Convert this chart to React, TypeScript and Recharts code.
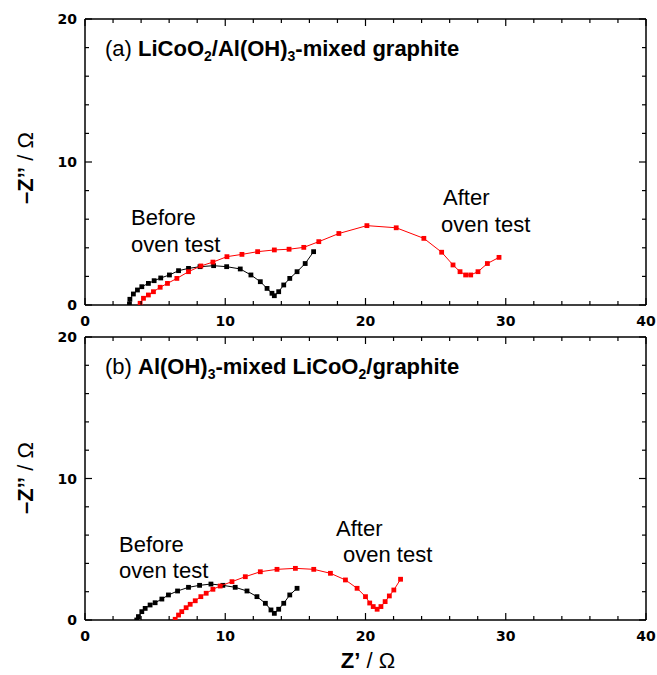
import React from 'react';
import { ScatterChart, Scatter, XAxis, YAxis } from 'recharts';

// ---------- data ----------
const xTicks = [0, 2, 4, 6, 8, 10, 12, 14, 16, 18, 20, 22, 24, 26, 28, 30, 32, 34, 36, 38, 40];
const yTicks = [0, 2, 4, 6, 8, 10, 12, 14, 16, 18, 20];

// (a) LiCoO2/Al(OH)3-mixed graphite
const aBeforeX = [3.17, 3.2, 3.45, 3.74, 4.05, 4.52, 4.93, 5.4, 6.02, 6.67, 7.38, 8.2, 9.17, 10.1, 11.07, 11.83, 12.5, 12.98, 13.33, 13.5, 13.81, 14.17, 14.6, 15.12, 15.7, 16.3];
const aBeforeY = [0.07, 0.4, 0.77, 1.05, 1.28, 1.51, 1.7, 1.89, 2.1, 2.4, 2.56, 2.68, 2.75, 2.68, 2.52, 2.1, 1.63, 1.16, 0.82, 0.65, 0.93, 1.4, 1.86, 2.33, 2.9, 3.73];
const aAfterX = [3.93, 4.17, 4.52, 4.88, 5.36, 5.88, 6.55, 7.38, 8.26, 9.12, 10.12, 11.19, 12.31, 13.5, 14.55, 15.6, 16.67, 18.1, 20.1, 22.19, 24.16, 25.43, 26.24, 26.74, 27.14, 27.5, 28.02, 28.69, 29.52];
const aAfterY = [0.12, 0.47, 0.7, 0.93, 1.24, 1.51, 1.86, 2.33, 2.73, 3.0, 3.38, 3.54, 3.73, 3.85, 3.9, 4.03, 4.43, 5.0, 5.55, 5.4, 4.66, 3.69, 2.8, 2.33, 2.1, 2.1, 2.33, 2.9, 3.33];

// (b) Al(OH)3-mixed LiCoO2/graphite
const bBeforeX = [3.69, 3.81, 4.05, 4.29, 4.64, 5.0, 5.48, 5.95, 6.6, 7.38, 8.17, 8.98, 9.83, 10.71, 11.55, 12.26, 12.86, 13.26, 13.5, 13.81, 14.17, 14.6, 15.12];
const bBeforeY = [0, 0.24, 0.59, 0.82, 1.06, 1.22, 1.48, 1.77, 2.05, 2.31, 2.45, 2.54, 2.45, 2.31, 2.05, 1.65, 1.18, 0.71, 0.47, 0.76, 1.18, 1.77, 2.24];
const bAfterX = [6.43, 6.67, 6.9, 7.21, 7.5, 7.86, 8.26, 8.64, 9.12, 9.64, 10.48, 11.43, 12.5, 13.69, 15.0, 16.31, 17.5, 18.57, 19.4, 20.0, 20.3, 20.55, 20.83, 21.1, 21.4, 21.7, 22.02, 22.5];
const bAfterY = [0.05, 0.35, 0.59, 0.87, 1.11, 1.36, 1.65, 1.89, 2.17, 2.4, 2.71, 3.06, 3.41, 3.58, 3.65, 3.58, 3.3, 2.83, 2.24, 1.65, 1.2, 0.95, 0.76, 0.95, 1.3, 1.7, 2.12, 2.88];

const toPoints = (xs: number[], ys: number[]) => xs.map((x, i) => ({ x, y: ys[i] }));

// ---------- styling helpers ----------
const TICK_FONT = 'DejaVu Sans, sans-serif';
const TEXT_FONT = 'Liberation Sans, Arial, sans-serif';
const isMajor = (v: number) => v % 10 === 0;

function BottomTick(props: any) {
  const { x, y, payload } = props;
  const major = isMajor(payload.value);
  return (
    <g>
      <line x1={x} y1={y} x2={x} y2={y - (major ? 7 : 4)} stroke="#000" strokeWidth={1.2} />
      {major && (
        <text x={x} y={y + 21} textAnchor="middle" fontFamily={TICK_FONT} fontWeight="bold" fontSize={14} fill="#000">
          {payload.value}
        </text>
      )}
    </g>
  );
}

function TopTick(props: any) {
  const { x, y, payload } = props;
  const major = isMajor(payload.value);
  return <line x1={x} y1={y} x2={x} y2={y + (major ? 7 : 4)} stroke="#000" strokeWidth={1.2} />;
}

function LeftTick(props: any) {
  const { x, y, payload } = props;
  const major = isMajor(payload.value);
  return (
    <g>
      <line x1={x} y1={y} x2={x + (major ? 7 : 4)} y2={y} stroke="#000" strokeWidth={1.2} />
      {major && (
        <text x={x - 8} y={y + 5} textAnchor="end" fontFamily={TICK_FONT} fontWeight="bold" fontSize={14} fill="#000">
          {payload.value}
        </text>
      )}
    </g>
  );
}

function RightTick(props: any) {
  const { x, y, payload } = props;
  const major = isMajor(payload.value);
  return <line x1={x} y1={y} x2={x - (major ? 7 : 4)} y2={y} stroke="#000" strokeWidth={1.2} />;
}

const makeSquare = (color: string) => (props: any) => {
  const { cx, cy } = props;
  if (cx == null || cy == null) return <g />;
  return <rect x={cx - 2.4} y={cy - 2.4} width={4.8} height={4.8} fill={color} />;
};
const BlackSquare = makeSquare('#000');
const RedSquare = makeSquare('#ff0000');
const NoShape = () => <g />;

const axisLine = { stroke: '#000', strokeWidth: 1.5 };

function Panel({ height, bottomH, before, after }: { height: number; bottomH: number; before: { x: number; y: number }[]; after: { x: number; y: number }[] }) {
  return (
    <ScatterChart width={657} height={height} margin={{ top: 18, right: 10, bottom: 0, left: 0 }}>
      <XAxis
        xAxisId="b"
        type="number"
        dataKey="x"
        domain={[0, 40]}
        ticks={xTicks}
        interval={0}
        tickSize={0}
        tickMargin={0}
        tickLine={false}
        axisLine={axisLine}
        tick={<BottomTick />}
        height={bottomH}
        allowDataOverflow
      />
      <XAxis
        xAxisId="t"
        orientation="top"
        type="number"
        dataKey="x"
        domain={[0, 40]}
        ticks={xTicks}
        interval={0}
        tickSize={0}
        tickMargin={0}
        tickLine={false}
        axisLine={axisLine}
        tick={<TopTick />}
        height={1}
        allowDataOverflow
      />
      <YAxis
        yAxisId="l"
        type="number"
        dataKey="y"
        domain={[0, 20]}
        ticks={yTicks}
        interval={0}
        tickSize={0}
        tickMargin={0}
        tickLine={false}
        axisLine={axisLine}
        tick={<LeftTick />}
        width={85}
        allowDataOverflow
      />
      <YAxis
        yAxisId="r"
        orientation="right"
        type="number"
        dataKey="y"
        domain={[0, 20]}
        ticks={yTicks}
        interval={0}
        tickSize={0}
        tickMargin={0}
        tickLine={false}
        axisLine={axisLine}
        tick={<RightTick />}
        width={1}
        allowDataOverflow
      />
      <Scatter
        xAxisId="t"
        yAxisId="r"
        data={[]}
        shape={NoShape}
        isAnimationActive={false}
      />
      <Scatter
        xAxisId="b"
        yAxisId="l"
        data={before}
        fill="#000"
        shape={BlackSquare}
        line={{ stroke: '#000', strokeWidth: 1 }}
        lineType="joint"
        isAnimationActive={false}
      />
      <Scatter
        xAxisId="b"
        yAxisId="l"
        data={after}
        fill="#ff0000"
        shape={RedSquare}
        line={{ stroke: '#ff0000', strokeWidth: 1 }}
        lineType="joint"
        isAnimationActive={false}
      />
    </ScatterChart>
  );
}

const sub = { fontSize: 14 };

export default function App() {
  return (
    <div style={{ position: 'absolute', left: 0, top: 0, width: 657, height: 675, background: '#fff', fontFamily: TEXT_FONT }}>
      <div style={{ position: 'absolute', left: 0, top: 0 }}>
        <Panel height={335} bottomH={30} before={toPoints(aBeforeX, aBeforeY)} after={toPoints(aAfterX, aAfterY)} />
      </div>
      <div style={{ position: 'absolute', left: 0, top: 318 }}>
        <Panel height={357} bottomH={55} before={toPoints(bBeforeX, bBeforeY)} after={toPoints(bAfterX, bAfterY)} />
      </div>
      <svg width={657} height={675} style={{ position: 'absolute', left: 0, top: 0, pointerEvents: 'none' }}>
        <g fontFamily={TEXT_FONT} fill="#000">
          {/* panel titles */}
          <text x={105} y={56} fontSize={22}>
            <tspan>(a) </tspan>
            <tspan fontWeight="bold">LiCoO</tspan>
            <tspan fontWeight="bold" style={sub} dy={5}>2</tspan>
            <tspan fontWeight="bold" dy={-5}>/Al(OH)</tspan>
            <tspan fontWeight="bold" style={sub} dy={5}>3</tspan>
            <tspan fontWeight="bold" dy={-5}>-mixed graphite</tspan>
          </text>
          <text x={105} y={374} fontSize={22}>
            <tspan>(b) </tspan>
            <tspan fontWeight="bold">Al(OH)</tspan>
            <tspan fontWeight="bold" style={sub} dy={5}>3</tspan>
            <tspan fontWeight="bold" dy={-5}>-mixed LiCoO</tspan>
            <tspan fontWeight="bold" style={sub} dy={5}>2</tspan>
            <tspan fontWeight="bold" dy={-5}>/graphite</tspan>
          </text>

          {/* annotations */}
          <text x={131} y={225} fontSize={22}>Before</text>
          <text x={131} y={252} fontSize={22}>oven test</text>
          <text x={443} y={205} fontSize={22}>After</text>
          <text x={441} y={232} fontSize={22}>oven test</text>

          <text x={119} y={552} fontSize={22}>Before</text>
          <text x={119} y={578} fontSize={22}>oven test</text>
          <text x={336} y={536} fontSize={22}>After</text>
          <text x={343} y={562} fontSize={22}>oven test</text>

          {/* axis titles */}
          <text x={33} y={168} fontSize={22} textAnchor="middle" transform="rotate(-90 33 168)">
            <tspan fontWeight="bold">–Z’’</tspan>
            <tspan> / Ω</tspan>
          </text>
          <text x={33} y={478} fontSize={22} textAnchor="middle" transform="rotate(-90 33 478)">
            <tspan fontWeight="bold">–Z’’</tspan>
            <tspan> / Ω</tspan>
          </text>
          <text x={368} y={668} fontSize={22} textAnchor="middle">
            <tspan fontWeight="bold">Z’</tspan>
            <tspan> / Ω</tspan>
          </text>
        </g>
      </svg>
    </div>
  );
}
